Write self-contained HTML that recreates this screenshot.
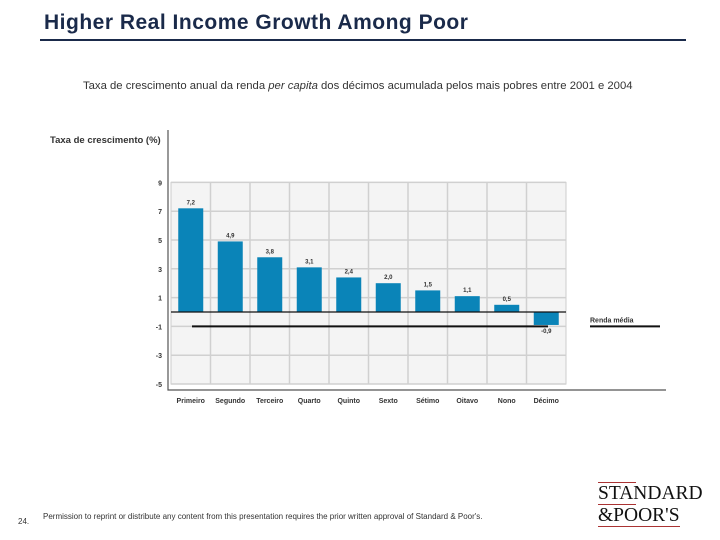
<!DOCTYPE html>
<html><head><meta charset="utf-8"><style>
body{margin:0;width:720px;height:540px;background:#fff;overflow:hidden;font-family:"Liberation Sans",sans-serif;position:relative}
.a{position:absolute;white-space:nowrap}
</style></head><body>
<div class="a" style="left:44px;top:11px;font-size:21px;letter-spacing:0.5px;font-weight:bold;color:#1a2a4a">Higher Real Income Growth Among Poor</div>
<div class="a" style="left:40px;top:39px;width:646px;height:2px;background:#1a2a4a"></div>
<div class="a" style="left:83px;top:80px;font-size:11.3px;color:#333">Taxa de crescimento anual da renda <i>per capita</i> dos décimos acumulada pelos mais pobres entre 2001 e 2004</div>
<div class="a" style="left:50px;top:135px;font-size:9.5px;font-weight:bold;color:#333">Taxa de crescimento (%)</div>
<svg class="a" style="left:0;top:0" width="720" height="540">
<g id="g"></g></svg>
<div class="a" style="left:43px;top:512px;font-size:8px;color:#333">Permission to reprint or distribute any content from this presentation requires the prior written approval of Standard &amp; Poor's.</div>
<div class="a" style="left:18px;top:517px;font-size:8px;color:#333">24.</div>
<div class="a" style="left:598px;top:482px;font-family:'Liberation Serif',serif;font-size:19.5px;line-height:21px;color:#111">
<div style="border-top:1px solid #a33;width:38px"></div>STANDARD<div style="border-top:1px solid #a33;width:38px"></div>&amp;POOR'S<div style="border-top:1px solid #a33;width:82px"></div></div>
<script>
const categories=["Primeiro","Segundo","Terceiro","Quarto","Quinto","Sexto","Sétimo","Oitavo","Nono","Décimo"];
const values=[7.2,4.9,3.8,3.1,2.4,2.0,1.5,1.1,0.5,-0.9];
const valueLabels=["7,2","4,9","3,8","3,1","2,4","2,0","1,5","1,1","0,5","-0,9"];
const yTicks=[9,7,5,3,1,-1,-3,-5];
const average=[-1.0];
const NS="http://www.w3.org/2000/svg",g=document.getElementById('g');
const x0=171,x1=566,cw=(x1-x0)/categories.length;
const y=v=>312-v*14.4;
function el(t,a,txt){const e=document.createElementNS(NS,t);for(const k in a)e.setAttribute(k,a[k]);if(txt!==undefined)e.textContent=txt;g.appendChild(e);return e;}
let bg=el('rect',{x:x0,y:y(9),width:x1-x0,height:y(-5)-y(9),fill:'#f4f4f4',stroke:'#ccc'});

yTicks.forEach(t=>{
 let l=el('line',{x1:x0,x2:x1,y1:y(t),y2:y(t),stroke:'#d0d0d0','stroke-width':1.5});
 
 let tx=el('text',{x:162,y:y(t)+3,'font-size':7,'text-anchor':'end',fill:'#333','font-weight':'bold'},t);
 
});
for(let i=1;i<categories.length;i++){let l=el('line',{x1:x0+i*cw,x2:x0+i*cw,y1:y(9),y2:y(-5),stroke:'#d0d0d0','stroke-width':1.5});
 }
categories.forEach((c,i)=>{
 const cx=x0+cw*(i+0.5),v=values[i],top=Math.min(y(v),y(0)),h=Math.abs(y(v)-y(0));
 let r=el('rect',{x:cx-12.5,y:top,width:25,height:h,fill:'#0a84b8'});
 
 let vl=el('text',{x:cx,y:v>=0?top-4:top+h+8,'font-size':6,'text-anchor':'middle',fill:'#333','font-weight':'bold'},valueLabels[i]);
 
 let cl=el('text',{x:cx,y:403,'font-size':7,'text-anchor':'middle',fill:'#333','font-weight':'bold'},c);
 
});
let z=el('line',{x1:x0,x2:x1,y1:y(0),y2:y(0),stroke:'#111','stroke-width':1.2});

let av=el('line',{x1:192,x2:548,y1:y(average[0]),y2:y(average[0]),stroke:'#111','stroke-width':2});

let lg=el('line',{x1:590,x2:660,y1:y(average[0]),y2:y(average[0]),stroke:'#111','stroke-width':2});

let lt=el('text',{x:590,y:y(average[0])-4,'font-size':7,fill:'#333','font-weight':'bold'},'Renda média');

let ax=el('path',{d:'M168 130 V390 H666',fill:'none',stroke:'#555','stroke-width':1.2});

</script>
</body></html>
